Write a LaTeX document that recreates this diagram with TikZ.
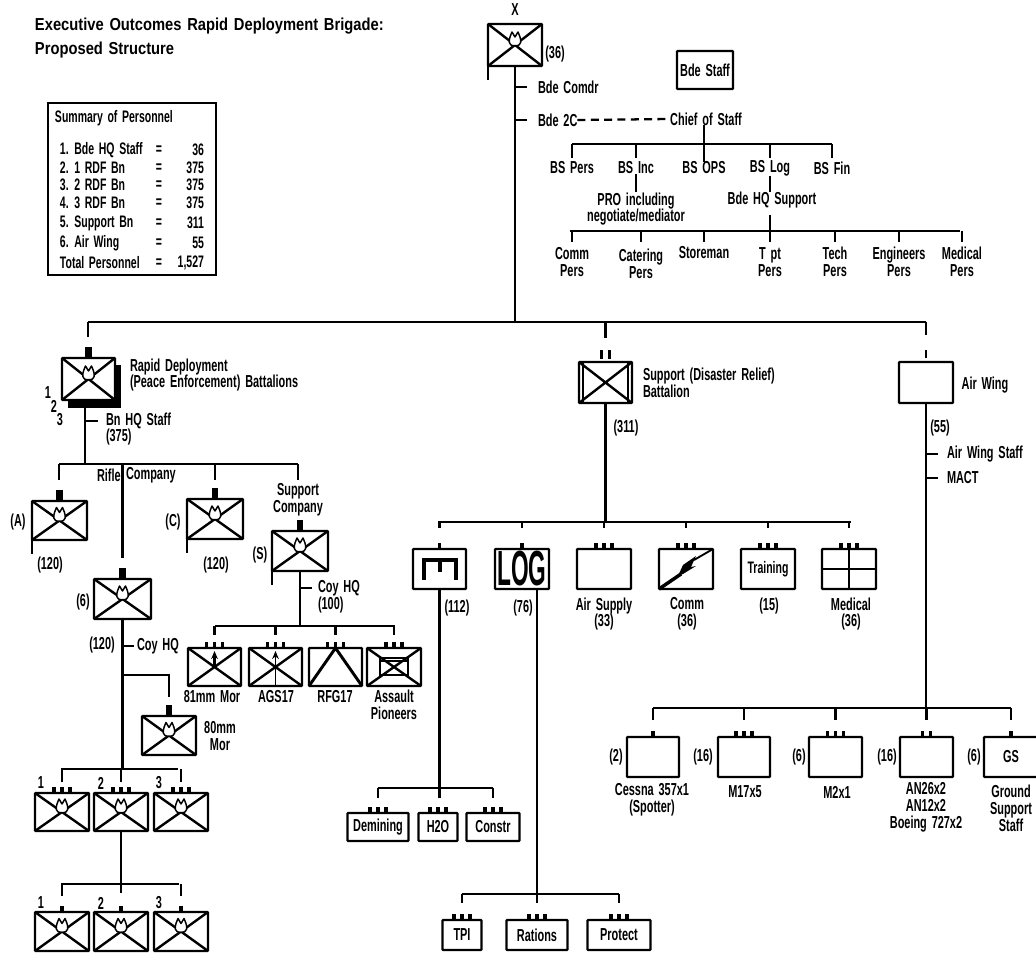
\documentclass[tikz,border=0pt]{standalone}
\usepackage{fontspec}
\usetikzlibrary{calc,arrows.meta}
\setmainfont[FakeStretch=0.63,WordSpace=1.6]{Liberation Sans}
\newfontfamily\titlefont[FakeStretch=0.85,WordSpace=1.4]{Liberation Sans}
\newfontfamily\logfont[FakeStretch=0.46]{Liberation Sans}
\tikzset{
  x=0.75pt,y=-0.75pt,
  wire/.style={line width=1.7pt,line cap=butt},
  sym/.style={line width=1.8pt},
  stem/.style={line width=2.6pt},
  fatstem/.style={line width=5pt},
  unit/.style={draw,line width=1.6pt,fill=white,inner sep=0pt,outer sep=0pt,rounded corners=0.5pt},
  txt/.style={inner sep=0pt,outer sep=0pt,align=center,font=\bfseries\fontsize{13}{12.6}\selectfont},
  small/.style={font=\bfseries\fontsize{12.5}{12.6}\selectfont},
  ttl/.style={inner sep=0pt,outer sep=0pt,anchor=west,font=\titlefont\bfseries\fontsize{13}{13}\selectfont}
}
\newcommand\Unit[6][]{\node[unit,minimum width={(#4-#2)*0.75pt},minimum height={(#5-#3)*0.75pt},#1] (#6) at ({(#2+#4)/2},{(#3+#5)/2}) {};}
\newcommand\Lbl[5][]{\node[txt,#1] (#2) at (#3,#4) {#5};}
\newcommand\LblL[5][]{\node[txt,anchor=west,align=left,#1] (#2) at (#3,#4) {#5};}
\newcommand\Xc[1]{\draw[sym] (#1.north west) -- (#1.south east) (#1.north east) -- (#1.south west);}
\newcommand\Flm[1]{\begin{scope}[shift={(#1.center)}]\draw[line width=1.1pt,fill=white,line join=round] (-4,0) .. controls (-7,-3) and (-6,-6) .. (-3,-13) -- (0,-8) -- (3,-13) .. controls (6,-6) and (7,-3) .. (4,0) .. controls (2,1) and (-2,1) .. cycle;\end{scope}}
\newcommand\Tri[1]{\foreach \d in {-8,0,8}{\draw[stem] ($(#1.north)+(\d,0)$) -- ++(0,-6);}}
\newcommand\Duo[1]{\foreach \d in {-4,4}{\draw[stem] ($(#1.north)+(\d,0)$) -- ++(0,-6);}}
\newcommand\One[1]{\draw[stem] (#1.north) -- ++(0,-6);}
\newcommand\FatStem[1]{\draw[fatstem] (#1.north) -- ++(0,-11);}
\newcommand\Tick[1]{\draw[wire] (#1.south west) -- ++(0,14);}
\newcommand\Drop[3]{\draw[wire] (#1.north |- #2) -- ++(0,#3);}
\begin{document}
\begin{tikzpicture}
\useasboundingbox (0,0) rectangle (1036,953);
% title
\node[ttl] (t1) at (35,26) {Executive Outcomes Rapid Deployment Brigade:};
\node[ttl] (t2) at (35,50) {Proposed Structure};
% summary
\node[draw,line width=1.5pt,minimum width={168*0.75pt},minimum height={172*0.75pt},inner sep=0pt] (sumbox) at (132,189) {};
\LblL[small]{sumh}{55}{118}{Summary of Personnel}
\foreach \i/\yy/\a/\b in {1/150/1. Bde HQ Staff/36,2/168/2. 1 RDF Bn/375,3/185/3. 2 RDF Bn/375,4/203/4. 3 RDF Bn/375,5/223/5. Support Bn/311,6/243/6. Air Wing/55,7/263/Total Personnel/{1,527}}{
  \node[txt,small,anchor=west] (sa\i) at (60,\yy) {\a};
  \node[txt,small] (se\i) at (159,\yy) {=};
  \node[txt,small,anchor=east] (sb\i) at (204,\yy) {\b};
}
% brigade
\Lbl{xlab}{515}{10}{X}
\Unit{488}{24}{542}{66}{bde}\Xc{bde}\Flm{bde}
\Tick{bde}
\Lbl{n36}{555}{54}{(36)}
\coordinate (busA) at (88,322);
\coordinate (busAr) at (926,322);
\draw[wire] (bde.south) -- (bde.south |- busA);
\draw[wire] (busA) -- (busAr);
\LblL{comdr}{538}{87}{Bde Comdr}
\LblL{twoc}{538}{120}{Bde 2C}
\draw[wire] (bde.south |- comdr) -- ++(12,0);
\draw[wire] (bde.south |- twoc) -- ++(12,0);
\Lbl{cos}{706}{119}{Chief of Staff}
\draw[wire,dash pattern=on 6pt off 4pt] (twoc.east) -- (cos.west);
\node[unit,minimum width={56*0.75pt},minimum height={38*0.75pt},txt,draw] (bstaff) at (705,70) {Bde Staff};
% staff
\coordinate (busB) at (572,144);
\coordinate (busBr) at (832,144);
\Lbl{bs1}{572}{168}{BS Pers}
\Lbl{bs2}{636}{168}{BS Inc}
\Lbl{bs3}{704}{168}{BS OPS}
\Lbl{bs4}{770}{168}{BS Log}
\Lbl{bs5}{832}{168}{BS Fin}
\draw[wire] (busB) -- (busBr);
\draw[wire] (cos.south -| bs3.north) -- (bs3.north);
\foreach \n in {bs1,bs2,bs4,bs5}{\Drop{\n}{busB}{14}}
\Lbl{pro}{636}{209}{PRO including\\negotiate/mediator}
\Lbl{hqs}{772}{200}{Bde HQ Support}
\draw[wire] (bs2.south) -- (pro.north -| bs2.south);
\draw[wire] (bs4.south) -- (hqs.north -| bs4.south);
\coordinate (busC) at (570,231);
\coordinate (busCr) at (960,231);
\draw[wire] (busC) -- (busCr);
\draw[wire] ($(hqs.south -| bs4.south)+(0,7)$) -- ++(0,17);
\Lbl{c1}{572}{262}{Comm\\Pers}
\Lbl{c2}{641}{264}{Catering\\Pers}
\Lbl[anchor=north]{c3}{704}{246}{Storeman}
\Lbl{c4}{770}{262}{T pt\\Pers}
\Lbl{c5}{835}{262}{Tech\\Pers}
\Lbl{c6}{899}{262}{Engineers\\Pers}
\Lbl{c7}{962}{262}{Medical\\Pers}
\foreach \n in {c1,c2,c3,c4,c5,c6,c7}{\Drop{\n}{busC}{11}}
% rapid deployment battalion
\fill (68,365) rectangle (121,408);
\Unit{62}{358}{115}{400}{rdb}\Xc{rdb}\Flm{rdb}\FatStem{rdb}
\draw[wire] (busA) -- ++(0,15);
\LblL{rd1}{130}{375}{Rapid Deployment\\(Peace Enforcement) Battalions}
\node[txt] (i1) at (48,393) {1};
\node[txt] (i2) at (54,406) {2};
\node[txt] (i3) at (60,420) {3};
\coordinate (busD) at (59,464);
\coordinate (busDr) at (298,464);
\coordinate (rdbt) at (85,464);
\draw[wire] (rdbt |- 0,408) -- (rdbt);
\draw[wire] (busD) -- (busDr);
\LblL{bnhq}{106}{429}{Bn HQ Staff\\(375)}
\draw[wire] (rdbt |- 0,421) -- ++(13,0);
\LblL{rifle}{97}{475}{Rifle}
\LblL{rifc}{126}{475}{Company}
\Unit{32}{501}{87}{540}{coa}\Xc{coa}\Flm{coa}\FatStem{coa}\Tick{coa}
\Unit{187}{499}{243}{539}{coc}\Xc{coc}\Flm{coc}\FatStem{coc}\Tick{coc}
\Unit{94}{579}{151}{619}{cob}\Xc{cob}\Flm{cob}\FatStem{cob}
\Unit{272}{531}{328}{571}{cos2}\Xc{cos2}\Flm{cos2}\FatStem{cos2}\Tick{cos2}
\Lbl{la}{18}{522}{(A)}
\Lbl{lc}{173}{522}{(C)}
\Lbl{lb}{83}{602}{(6)}
\Lbl{ls}{260}{555}{(S)}
\Lbl{n120a}{50}{565}{(120)}
\Lbl{n120c}{216}{565}{(120)}
\Lbl{supco}{298}{500}{Support\\Company}
\draw[wire] (busD) -- ++(0,16);
\draw[wire] (coc.north |- busD) -- ++(0,16);
\draw[wire] (busDr) -- ++(0,16);
\draw[wire] (cob.north |- busD) -- ++(0,94);
% support coy
\LblL{coyhq}{318}{597}{Coy HQ\\(100)}
\coordinate (busE) at (215,626);
\coordinate (busEr) at (395,626);
\draw[wire] (cos2.south) -- (cos2.south |- busE);
\draw[wire] (cos2.south |- coyhq) ++(0,-9) -- ++(12,0);
\draw[wire] (busE) -- (busEr);
\Unit{188}{648}{241}{686}{w1}\Xc{w1}
\Unit{249}{648}{302}{686}{w2}\Xc{w2}
\Unit{309}{648}{362}{686}{w3}
\Unit{367}{648}{421}{686}{w4}\Xc{w4}
\draw[sym,-{Stealth[length=6pt,width=5pt]}] (w1.center) -- ($(w1.north)+(0,3)$);
\draw[line width=1pt,-{Stealth[length=6pt,width=5pt]}] (w2.center) -- ($(w2.north)+(0,3)$);
\draw[line width=1pt] (w2.center) -- (w2.south);
\draw[line width=2.2pt] (w3.north) -- (w3.south west) (w3.north) -- (w3.south east);
\draw[sym] ($(w4.center)+(-14,-9)$) rectangle ($(w4.center)+(14,8)$);
\draw[sym] ($(w4.center)+(-14,-6)$) -- ($(w4.center)+(14,-6)$);
\foreach \n in {w1,w2,w3,w4}{\Tri{\n}\Drop{\n}{busE}{9}}
\Lbl{wl1}{212}{697}{81mm Mor}
\Lbl{wl2}{276}{697}{AGS17}
\Lbl{wl3}{335}{697}{RFG17}
\Lbl{wl4}{394}{705}{Assault\\Pioneers}
% rifle company B
\Lbl{n120b}{102}{645}{(120)}
\LblL{coyhqb}{137}{646}{Coy HQ}
\coordinate (busF) at (61,769);
\coordinate (busFr) at (178,769);
\draw[wire] (cob.south) -- (cob.south |- busF);
\draw[wire] (cob.south |- coyhqb) -- ++(11,0);
\Unit{142}{716}{196}{755}{mor}\Xc{mor}\Flm{mor}\FatStem{mor}
\draw[wire] (cob.south |- 0,675) -- (mor.north |- 0,675) -- ++(0,22);
\Lbl{morl}{220}{736}{80mm\\Mor}
\draw[wire] (busF) -- (busFr);
\Unit{35}{793}{89}{831}{p1}\Xc{p1}\Flm{p1}\Tri{p1}
\Unit{94}{793}{148}{831}{p2}\Xc{p2}\Flm{p2}\Tri{p2}
\Unit{154}{793}{208}{831}{p3}\Xc{p3}\Flm{p3}\Tri{p3}
\foreach \n in {p1,p2,p3}{\Drop{\n}{busF}{13}}
\Lbl{pn1}{41}{783}{1}
\Lbl{pn2}{101}{783}{2}
\Lbl{pn3}{159}{783}{3}
\coordinate (busG) at (61,884);
\coordinate (busGr) at (179,884);
\draw[wire] (p2.south) -- ++(0,62);
\draw[wire] (busG) -- (busGr);
\Unit{35}{912}{89}{951}{q1}\Xc{q1}\Flm{q1}\One{q1}
\Unit{94}{912}{148}{951}{q2}\Xc{q2}\Flm{q2}\One{q2}
\Unit{154}{912}{208}{951}{q3}\Xc{q3}\Flm{q3}\One{q3}
\foreach \n in {q1,q3}{\Drop{\n}{busG}{12}}
\Lbl{qn1}{41}{903}{1}
\Lbl{qn2}{101}{903}{2}
\Lbl{qn3}{159}{903}{3}
% support battalion
\Unit{579}{362}{632}{403}{sb}\Xc{sb}
\draw[line width=0.8pt] ($(sb.north west)+(4,0)$) -- ($(sb.south west)+(4,0)$) ($(sb.north east)+(-4,0)$) -- ($(sb.south east)+(-4,0)$);
\Drop{sb}{busA}{16}
\draw[wire] ($(sb.north)+(-4,-3)$) -- ++(0,-9) ($(sb.north)+(4,-3)$) -- ++(0,-9);
\LblL{sbl}{643}{383}{Support (Disaster Relief)\\Battalion}
\Lbl{n311}{626}{428}{(311)}
\coordinate (busH) at (438,522);
\coordinate (busHr) at (851,522);
\draw[wire] (sb.south) -- (sb.south |- busH);
\draw[wire] (busH) -- (busHr);
\Unit{413}{549}{466}{589}{e1}
\Unit{495}{549}{549}{589}{e2}
\Unit{577}{549}{631}{589}{e3}
\Unit{659}{549}{713}{589}{e4}
\Unit{741}{549}{795}{589}{e5}
\Unit{822}{549}{876}{589}{e6}
\foreach \n in {e1,e2,e3,e4,e5,e6}{\Drop{\n}{busH}{6}}
\One{e1}\One{e2}\Tri{e3}\Tri{e4}\Tri{e5}\Tri{e6}
% engineer symbol
\draw[line width=3pt] ($(e1.center)+(-16,11)$) -- ($(e1.center)+(-16,-9)$) -- ($(e1.center)+(16,-9)$) -- ($(e1.center)+(16,11)$);
\draw[line width=3pt] ($(e1.center)+(0,-9)$) -- ($(e1.center)+(0,3)$);
\node[inner sep=0pt,font=\logfont\bfseries\fontsize{37}{37}\selectfont] (logt) at (e2.center) {LOG};
\draw[line width=2.6pt] (e4.south west) -- ($(e4.center)+(-5,5)$);
\draw[line width=1.4pt] (e4.north east) -- ($(e4.center)+(8,-9)$);
\fill ($(e4.center)+(-8,7)$) -- ($(e4.center)+(-3,-4)$) -- ($(e4.center)+(10,-13)$) -- ($(e4.center)+(5,-2)$) -- ($(e4.center)+(10,-3)$) -- ($(e4.center)+(-3,5)$) -- cycle;
\node[txt,small] (trn) at (e5.center) {Training};
\draw[line width=1.8pt] (e6.north) -- (e6.south) (e6.west) -- (e6.east);
\Lbl{n112}{457}{608}{(112)}
\Lbl{n76}{523}{608}{(76)}
\Lbl{l3}{604}{614}{Air Supply\\(33)}
\Lbl{l4}{687}{614}{Comm\\(36)}
\Lbl{n15}{769}{606}{(15)}
\Lbl{l6}{851}{614}{Medical\\(36)}
% engineers subunits
\coordinate (busI) at (378,788);
\coordinate (busIr) at (493,788);
\draw[wire] (e1.south) -- (e1.south |- 0,798);
\draw[wire] (busI) -- (busIr);
\node[unit,txt,minimum width={61*0.75pt},minimum height={28*0.75pt}] (d1) at (378,827) {Demining};
\node[unit,txt,minimum width={39*0.75pt},minimum height={28*0.75pt}] (d2) at (438,827) {H2O};
\node[unit,txt,minimum width={53*0.75pt},minimum height={28*0.75pt}] (d3) at (493,827) {Constr};
\foreach \n in {d1,d3}{\Drop{\n}{busI}{10}}
\foreach \n in {d1,d2,d3}{\Tri{\n}}
\coordinate (busJ) at (462,894);
\coordinate (busJr) at (619,894);
\coordinate (logt2) at (537,589);
\draw[wire] (logt2) -- (logt2 |- 0,903);
\draw[wire] (busJ) -- (busJr);
\node[unit,txt,minimum width={39*0.75pt},minimum height={30*0.75pt}] (f1) at (462,935) {TPI};
\node[unit,txt,minimum width={61*0.75pt},minimum height={30*0.75pt}] (f2) at (537,935) {Rations};
\node[unit,txt,minimum width={63*0.75pt},minimum height={30*0.75pt}] (f3) at (619,935) {Protect};
\foreach \n in {f1,f3}{\Drop{\n}{busJ}{9}}
\foreach \n in {f1,f2,f3}{\Tri{\n}}
% air wing
\Unit{899}{362}{953}{403}{aw}
\Drop{aw}{busA}{13}
\draw[wire] ($(aw.north)+(0,-12)$) -- ++(0,8);
\Lbl{awl}{985}{385}{Air Wing}
\Lbl{n55}{940}{428}{(55)}
\LblL{aws}{947}{454}{Air Wing Staff}
\LblL{mact}{947}{478}{MACT}
\coordinate (busK) at (653,708);
\coordinate (busKr) at (1011,708);
\draw[wire] (aw.south) -- ++(0,317);
\draw[wire] (aw.south |- aws) -- ++(12,0);
\draw[wire] (aw.south |- mact) -- ++(12,0);
\draw[wire] (busK) -- (busKr);
\Unit{627}{737}{679}{777}{a1}
\Unit{718}{737}{770}{777}{a2}
\Unit{809}{737}{862}{777}{a3}
\Unit{900}{737}{953}{777}{a4}
\Unit{984}{737}{1038}{777}{a5}
\foreach \n in {a1,a2,a3,a4,a5}{\Drop{\n}{busK}{12}}
\One{a1}\Tri{a2}\Tri{a3}\Duo{a4}\One{a5}
\Lbl{m1}{616}{757}{(2)}
\Lbl{m2}{703}{757}{(16)}
\Lbl{m3}{799}{757}{(6)}
\Lbl{m4}{887}{757}{(16)}
\Lbl{m5}{974}{757}{(6)}
\node[txt] (gs) at (a5.center) {GS};
\Lbl{al1}{652}{800}{Cessna 357x1\\(Spotter)}
\Lbl{al2}{745}{792}{M17x5}
\Lbl{al3}{837}{792}{M2x1}
\Lbl{al4}{926}{807}{AN26x2\\AN12x2\\Boeing 727x2}
\Lbl{al5}{1011}{808}{Ground\\Support\\Staff}
\end{tikzpicture}
\end{document}
